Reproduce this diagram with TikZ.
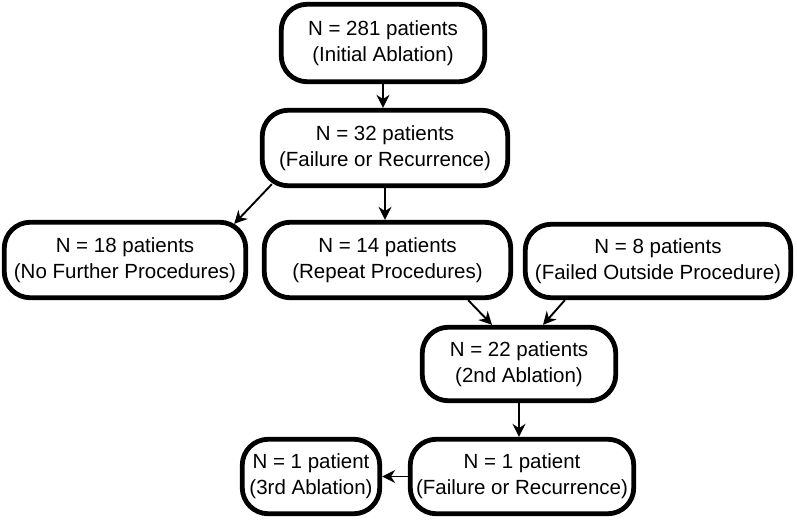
\documentclass[tikz,border=0pt]{standalone}
\usepackage{fontspec}
\setmainfont{Liberation Sans}
\usetikzlibrary{arrows.meta}

\begin{document}
\begin{tikzpicture}[x=1pt,y=-1pt,
  box/.style={draw,line width=4.8pt,rounded corners=26pt,align=center,
              inner sep=0pt,font=\fontsize{20.5}{26}\selectfont},
  arr/.style={-{Stealth[length=13pt,width=13pt]},line width=1.9pt}]
\useasboundingbox (0,0) rectangle (797,521);
\node[box,minimum width=203.5pt,minimum height=77.5pt] (initial)   at (383,43)
  {N = 281 patients\\(Initial Ablation)};
\node[box,minimum width=245.5pt,minimum height=75.5pt] (fail)      at (385,148)
  {N = 32 patients\\(Failure or Recurrence)};
\node[box,minimum width=241.5pt,minimum height=75.5pt] (nofurther) at (125,260)
  {N = 18 patients\\(No Further Procedures)};
\node[box,minimum width=246.5pt,minimum height=75.5pt] (repeat)    at (387.5,260)
  {N = 14 patients\\(Repeat Procedures)};
\node[box,minimum width=265.5pt,minimum height=73.5pt] (outside)   at (658,261)
  {N = 8 patients\\(Failed Outside Procedure)};
\node[box,minimum width=193.5pt,minimum height=73.5pt] (second)    at (519,364)
  {N = 22 patients\\(2nd Ablation)};
\node[box,minimum width=223.5pt,minimum height=74.5pt] (failtwo)   at (522,476.5)
  {N = 1 patient\\(Failure or Recurrence)};
\node[box,minimum width=137.5pt,minimum height=74.5pt] (third)     at (311,476.5)
  {N = 1 patient\\(3rd Ablation)};

\draw[arr] (initial.south) -- (initial.south |- fail.north);
\draw[arr] ([shift={(12,-4)}]fail.south west) -- ([shift={(-14,4)}]nofurther.north east);
\draw[arr] (fail.south) -- (fail.south |- repeat.north);
\draw[arr] ([xshift=-45pt]repeat.south east) -- ([xshift=-27pt]second.north);
\draw[arr] ([xshift=42pt]outside.south west) -- ([xshift=24pt]second.north);
\draw[arr] (second.south) -- (second.south |- failtwo.north);
\draw[arr] (failtwo.west) -- (third.east);
\end{tikzpicture}
\end{document}
